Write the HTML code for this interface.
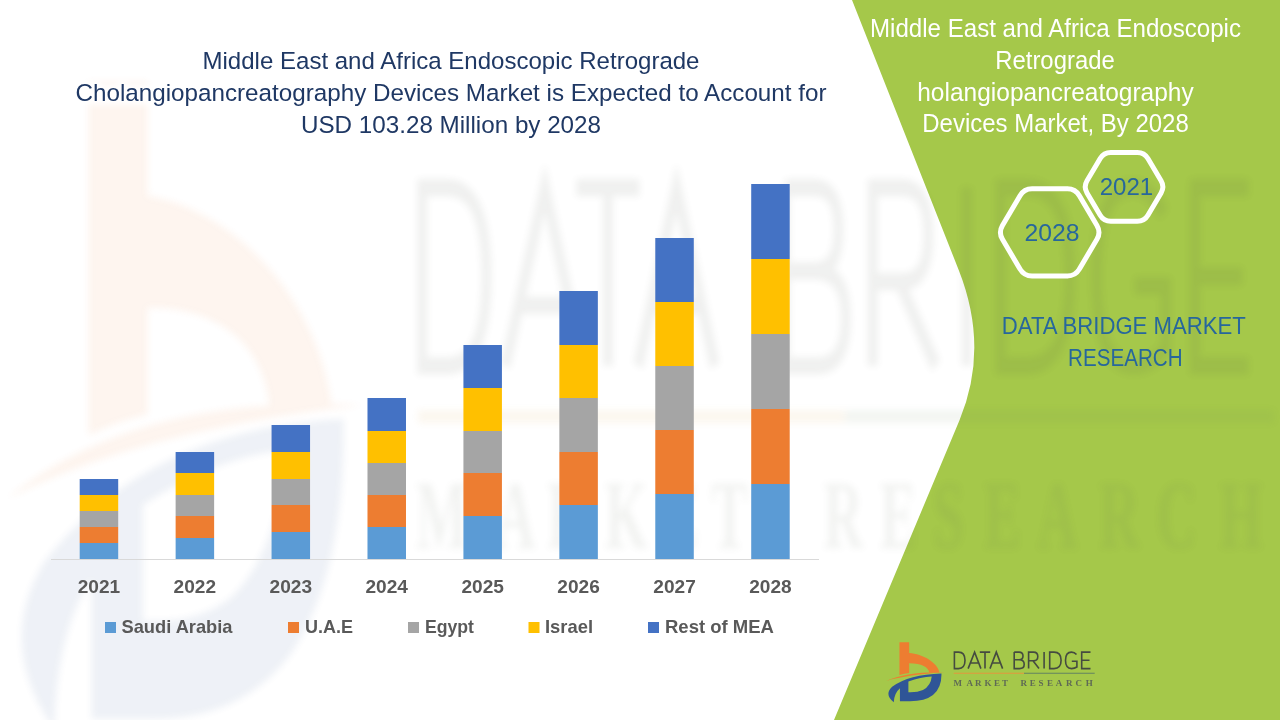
<!DOCTYPE html>
<html><head><meta charset="utf-8">
<style>
html,body{margin:0;padding:0;width:1280px;height:720px;overflow:hidden;background:#fff;}
svg{display:block;}
text{font-family:"Liberation Sans",sans-serif;}
.t1{font-size:24.5px;fill:#1F3864;}
.t1g{font-size:24.5px;}
.tw{font-size:25px;fill:#FFFFFF;}
.tb{font-size:24.5px;fill:#27679C;}
.ax{font-size:19px;font-weight:bold;fill:#595959;}
.lg{font-size:19px;font-weight:bold;fill:#595959;}
.hx{font-size:23.3px;fill:#27679C;}
</style></head><body>
<svg width="1280" height="720" viewBox="0 0 1280 720">
<defs>
<filter id="gl" x="-5%" y="-50%" width="110%" height="200%"><feGaussianBlur stdDeviation="3"/></filter>
<filter id="wb" x="-10%" y="-10%" width="120%" height="120%"><feGaussianBlur stdDeviation="3.5"/></filter>

<g id="logo">
 <g transform="translate(880,635) scale(0.09722)">
  <path fill="#ED7D31" d="M200,75 L300,75 L300,184 C440,195 590,280 612,385 L507,388 C500,330 430,290 300,290 L300,392 Q250,398 200,412 Z"/>
  <path fill="#ED7D31" d="M62,472 Q280,372 665,383 Q290,406 62,472 Z"/>
  <path fill="#2F5597" fill-rule="evenodd" d="M142,692 Q40,610 125,532 Q300,405 632,396 Q636,540 545,618 Q460,684 300,682 L205,682 L205,548 Q145,600 142,692 Z M292,588 L292,478 Q420,432 532,426 Q524,520 442,566 Q382,592 292,588 Z"/>
 </g>
 <g fill="none" stroke="#454B40">
  <path d="M954.4,652.1 L954.4,668.6 L958.5,668.6 Q965,668.6 965,660.35 Q965,652.1 958.5,652.1 Z"/>
  <path d="M968.1,668.6 L974.6,652.1 L980.9,668.6 M970.4,663 L978.8,663"/>
  <path d="M979.8,652.1 L990.2,652.1 M985,652.1 L985,668.6"/>
  <path d="M990,668.6 L996.3,652.1 L1002.6,668.6 M992.3,663 L1000.5,663"/>
  <path d="M1014.2,652.1 L1014.2,668.6 L1019.5,668.6 Q1024.2,668.6 1024.2,664.2 Q1024.2,659.8 1019,659.8 L1014.2,659.8 M1019,659.8 Q1023,659.8 1023,656 Q1023,652.1 1019,652.1 L1014.2,652.1"/>
  <path d="M1028.6,668.6 L1028.6,652.1 L1033.5,652.1 Q1037.8,652.1 1037.8,656.5 Q1037.8,660.8 1033.5,660.8 L1028.6,660.8 M1033,660.8 L1039,668.6"/>
  <path d="M1044.1,652.1 L1044.1,668.6"/>
  <path d="M1049.7,652.1 L1049.7,668.6 L1054,668.6 Q1061.1,668.6 1061.1,660.35 Q1061.1,652.1 1054,652.1 Z"/>
  <path d="M1076.5,654.5 Q1074.5,652.1 1071.5,652.1 Q1065.5,652.1 1065.5,660.35 Q1065.5,668.6 1071.5,668.6 Q1074.5,668.6 1076.9,667 L1076.9,661.2 L1071.8,661.2"/>
  <path d="M1090.5,652.1 L1081.7,652.1 L1081.7,668.6 L1090.5,668.6 M1081.7,660.3 L1089.5,660.3"/>
 </g>
 <rect x="953.7" y="672.7" width="70.3" height="1.2" fill="#D9A040"/>
 <rect x="1024" y="672.7" width="70.7" height="1.2" fill="#6E8E5E"/>
 <text style="font-family:'Liberation Serif',serif;font-weight:bold" font-size="9" fill="#5F6A55" y="685.5" x="953.4 966.5 975 984.5 994 1002 1020.5 1029.8 1038.6 1047 1055.8 1066 1075.4 1085.8">MARKETRESEARCH</text>
</g>

</defs>
<path d="M852,0 L1280,0 L1280,720 L834,720 L959.6,420 Q989.5,348 958.7,270 Z" fill="#A5C84A"/>
<g opacity="0.08" filter="url(#wb)"><use href="#logo" stroke-width="1.6" transform="matrix(6.07,0,0,10.8,-5371,-6855)"/></g>
<g filter="url(#gl)" opacity="0.9" style="fill:#fff;stroke:#fff;stroke-width:9;stroke-linejoin:round"><text x="451" y="68.75" text-anchor="middle" class="t1g" textLength="497" lengthAdjust="spacingAndGlyphs">Middle East and Africa Endoscopic Retrograde</text>
<text x="451" y="101.2" text-anchor="middle" class="t1g" textLength="751" lengthAdjust="spacingAndGlyphs">Cholangiopancreatography Devices Market is Expected to Account for</text>
<text x="451" y="132.8" text-anchor="middle" class="t1g" textLength="300" lengthAdjust="spacingAndGlyphs">USD 103.28 Million by 2028</text></g>
<text x="451" y="68.75" text-anchor="middle" class="t1" textLength="497" lengthAdjust="spacingAndGlyphs">Middle East and Africa Endoscopic Retrograde</text>
<text x="451" y="101.2" text-anchor="middle" class="t1" textLength="751" lengthAdjust="spacingAndGlyphs">Cholangiopancreatography Devices Market is Expected to Account for</text>
<text x="451" y="132.8" text-anchor="middle" class="t1" textLength="300" lengthAdjust="spacingAndGlyphs">USD 103.28 Million by 2028</text>
<rect x="79.70" y="479" width="38.5" height="16" fill="#4472C4"/>
<rect x="79.70" y="495" width="38.5" height="16" fill="#FFC000"/>
<rect x="79.70" y="511" width="38.5" height="16" fill="#A5A5A5"/>
<rect x="79.70" y="527" width="38.5" height="16" fill="#ED7D31"/>
<rect x="79.70" y="543" width="38.5" height="16" fill="#5B9BD5"/>
<rect x="175.63" y="452" width="38.5" height="21" fill="#4472C4"/>
<rect x="175.63" y="473" width="38.5" height="22" fill="#FFC000"/>
<rect x="175.63" y="495" width="38.5" height="21" fill="#A5A5A5"/>
<rect x="175.63" y="516" width="38.5" height="22" fill="#ED7D31"/>
<rect x="175.63" y="538" width="38.5" height="21" fill="#5B9BD5"/>
<rect x="271.56" y="425" width="38.5" height="27" fill="#4472C4"/>
<rect x="271.56" y="452" width="38.5" height="27" fill="#FFC000"/>
<rect x="271.56" y="479" width="38.5" height="26" fill="#A5A5A5"/>
<rect x="271.56" y="505" width="38.5" height="27" fill="#ED7D31"/>
<rect x="271.56" y="532" width="38.5" height="27" fill="#5B9BD5"/>
<rect x="367.49" y="398" width="38.5" height="33" fill="#4472C4"/>
<rect x="367.49" y="431" width="38.5" height="32" fill="#FFC000"/>
<rect x="367.49" y="463" width="38.5" height="32" fill="#A5A5A5"/>
<rect x="367.49" y="495" width="38.5" height="32" fill="#ED7D31"/>
<rect x="367.49" y="527" width="38.5" height="32" fill="#5B9BD5"/>
<rect x="463.42" y="345" width="38.5" height="43" fill="#4472C4"/>
<rect x="463.42" y="388" width="38.5" height="43" fill="#FFC000"/>
<rect x="463.42" y="431" width="38.5" height="42" fill="#A5A5A5"/>
<rect x="463.42" y="473" width="38.5" height="43" fill="#ED7D31"/>
<rect x="463.42" y="516" width="38.5" height="43" fill="#5B9BD5"/>
<rect x="559.35" y="291" width="38.5" height="54" fill="#4472C4"/>
<rect x="559.35" y="345" width="38.5" height="53" fill="#FFC000"/>
<rect x="559.35" y="398" width="38.5" height="54" fill="#A5A5A5"/>
<rect x="559.35" y="452" width="38.5" height="53" fill="#ED7D31"/>
<rect x="559.35" y="505" width="38.5" height="54" fill="#5B9BD5"/>
<rect x="655.28" y="238" width="38.5" height="64" fill="#4472C4"/>
<rect x="655.28" y="302" width="38.5" height="64" fill="#FFC000"/>
<rect x="655.28" y="366" width="38.5" height="64" fill="#A5A5A5"/>
<rect x="655.28" y="430" width="38.5" height="64" fill="#ED7D31"/>
<rect x="655.28" y="494" width="38.5" height="65" fill="#5B9BD5"/>
<rect x="751.21" y="184" width="38.5" height="75" fill="#4472C4"/>
<rect x="751.21" y="259" width="38.5" height="75" fill="#FFC000"/>
<rect x="751.21" y="334" width="38.5" height="75" fill="#A5A5A5"/>
<rect x="751.21" y="409" width="38.5" height="75" fill="#ED7D31"/>
<rect x="751.21" y="484" width="38.5" height="75" fill="#5B9BD5"/>
<rect x="51" y="559" width="768" height="1" fill="#D9D9D9"/>
<text x="98.95" y="593" text-anchor="middle" class="ax" textLength="42.5" lengthAdjust="spacingAndGlyphs">2021</text>
<text x="194.88" y="593" text-anchor="middle" class="ax" textLength="42.5" lengthAdjust="spacingAndGlyphs">2022</text>
<text x="290.81" y="593" text-anchor="middle" class="ax" textLength="42.5" lengthAdjust="spacingAndGlyphs">2023</text>
<text x="386.74" y="593" text-anchor="middle" class="ax" textLength="42.5" lengthAdjust="spacingAndGlyphs">2024</text>
<text x="482.67" y="593" text-anchor="middle" class="ax" textLength="42.5" lengthAdjust="spacingAndGlyphs">2025</text>
<text x="578.60" y="593" text-anchor="middle" class="ax" textLength="42.5" lengthAdjust="spacingAndGlyphs">2026</text>
<text x="674.53" y="593" text-anchor="middle" class="ax" textLength="42.5" lengthAdjust="spacingAndGlyphs">2027</text>
<text x="770.46" y="593" text-anchor="middle" class="ax" textLength="42.5" lengthAdjust="spacingAndGlyphs">2028</text>
<rect x="105" y="622" width="11" height="11" fill="#5B9BD5"/>
<text x="121.5" y="633.4" class="lg" textLength="111" lengthAdjust="spacingAndGlyphs">Saudi Arabia</text>
<rect x="288" y="622" width="11" height="11" fill="#ED7D31"/>
<text x="305" y="633.4" class="lg" textLength="48" lengthAdjust="spacingAndGlyphs">U.A.E</text>
<rect x="408" y="622" width="11" height="11" fill="#A5A5A5"/>
<text x="425" y="633.4" class="lg" textLength="49" lengthAdjust="spacingAndGlyphs">Egypt</text>
<rect x="528.5" y="622" width="11" height="11" fill="#FFC000"/>
<text x="545" y="633.4" class="lg" textLength="48" lengthAdjust="spacingAndGlyphs">Israel</text>
<rect x="648" y="622" width="11" height="11" fill="#4472C4"/>
<text x="665" y="633.4" class="lg" textLength="109" lengthAdjust="spacingAndGlyphs">Rest of MEA</text>
<text x="1055.5" y="37" text-anchor="middle" class="tw" textLength="371" lengthAdjust="spacingAndGlyphs">Middle East and Africa Endoscopic</text>
<text x="1055" y="68.5" text-anchor="middle" class="tw" textLength="119.5" lengthAdjust="spacingAndGlyphs">Retrograde</text>
<text x="1055.5" y="100.7" text-anchor="middle" class="tw" textLength="276.5" lengthAdjust="spacingAndGlyphs">holangiopancreatography</text>
<text x="1055.5" y="132.4" text-anchor="middle" class="tw" textLength="266.5" lengthAdjust="spacingAndGlyphs">Devices Market, By 2028</text>
<path d="M1087.01,192.90 Q1083.45,186.88 1087.01,180.85 L1100.19,158.53 Q1103.75,152.50 1110.75,152.50 L1137.35,152.50 Q1144.35,152.50 1147.91,158.53 L1161.09,180.85 Q1164.65,186.88 1161.09,192.90 L1147.91,215.22 Q1144.35,221.25 1137.35,221.25 L1110.75,221.25 Q1103.75,221.25 1100.19,215.22 Z" fill="none" stroke="#FFFFFF" stroke-width="5"/>
<path d="M1002.45,239.27 Q998.40,232.38 1002.45,225.48 L1020.00,195.65 Q1024.05,188.75 1032.05,188.75 L1067.35,188.75 Q1075.35,188.75 1079.40,195.65 L1096.95,225.48 Q1101.00,232.38 1096.95,239.27 L1079.40,269.10 Q1075.35,276.00 1067.35,276.00 L1032.05,276.00 Q1024.05,276.00 1020.00,269.10 Z" fill="none" stroke="#FFFFFF" stroke-width="5"/>
<text x="1126.4" y="194.6" text-anchor="middle" class="hx" textLength="53.5" lengthAdjust="spacingAndGlyphs">2021</text>
<text x="1052" y="241" text-anchor="middle" class="hx" textLength="55" lengthAdjust="spacingAndGlyphs">2028</text>
<text x="1123.8" y="333.9" text-anchor="middle" class="tb" textLength="244" lengthAdjust="spacingAndGlyphs">DATA BRIDGE MARKET</text>
<text x="1125.3" y="366.2" text-anchor="middle" class="tb" textLength="114.5" lengthAdjust="spacingAndGlyphs">RESEARCH</text>
<use href="#logo" stroke-width="1.6"/>
</svg>
</body></html>
